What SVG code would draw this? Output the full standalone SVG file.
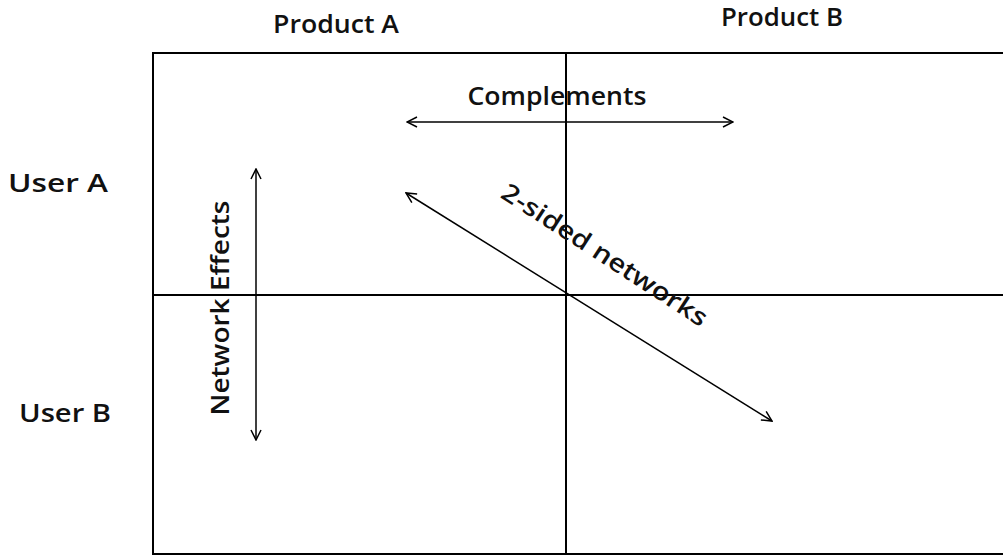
<svg xmlns="http://www.w3.org/2000/svg" width="1003" height="560" viewBox="0 0 1003 560">
<style>
text{font-family:"Open Sans","Liberation Sans",Arial,sans-serif;font-weight:600;font-size:25px;fill:#111}
.grid{stroke:#000;stroke-width:2;fill:none}
.con{stroke:#000;stroke-width:1.5;fill:none;marker-start:url(#ah);marker-end:url(#ah)}
</style>
<defs>
<marker id="ah" viewBox="0 0 12 12" refX="11" refY="6" markerWidth="12" markerHeight="12" markerUnits="userSpaceOnUse" orient="auto-start-reverse">
<path d="M1,1 L11,6 L1,11" fill="none" stroke="#000" stroke-width="1.5"/>
</marker>
</defs>
<g id="frame">
<path class="grid" d="M1010,53 H153 V554 H1010"/>
<line class="grid" x1="566" y1="53" x2="566" y2="554"/>
<line class="grid" x1="153" y1="295" x2="1010" y2="295"/>
</g>
<g id="labels">
<text id="productA" x="336" y="33" text-anchor="middle" textLength="126" lengthAdjust="spacingAndGlyphs">Product A</text>
<text id="productB" x="782" y="26" text-anchor="middle" textLength="122" lengthAdjust="spacingAndGlyphs">Product B</text>
<text id="userA" x="8" y="192" textLength="100" lengthAdjust="spacingAndGlyphs">User A</text>
<text id="userB" x="19" y="422" textLength="92" lengthAdjust="spacingAndGlyphs">User B</text>
</g>
<g id="connectors">
<line class="con" x1="407" y1="122" x2="733" y2="122"/>
<line class="con" x1="256" y1="169" x2="256" y2="440"/>
<line class="con" x1="406" y1="193" x2="772" y2="421"/>
</g>
<g id="connector-labels">
<text id="complements" x="557" y="105" text-anchor="middle" textLength="179" lengthAdjust="spacingAndGlyphs">Complements</text>
<text id="networkEffects" transform="translate(229,308) rotate(-90)" text-anchor="middle" textLength="215" lengthAdjust="spacingAndGlyphs">Network Effects</text>
<text id="twoSided" transform="translate(600,262) rotate(33)" text-anchor="middle" textLength="240" lengthAdjust="spacingAndGlyphs">2-sided networks</text>
</g>
</svg>
